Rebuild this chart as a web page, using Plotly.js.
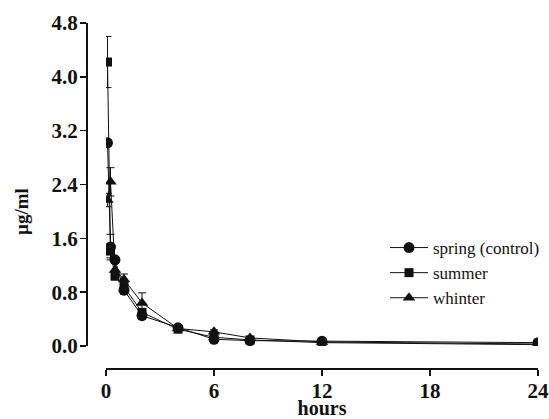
<!DOCTYPE html>
<html><head><meta charset="utf-8">
<script src="https://cdn.plot.ly/plotly-3.0.1.min.js"></script>
<style>html,body{margin:0;padding:0;background:#fff}#c{width:549px;height:419px}</style>
</head><body><div id="c"></div>
<script>
const hours = [0.083, 0.25, 0.5, 1, 2, 4, 6, 8, 12, 24];
const spring = [3.02, 1.47, 1.28, 0.83, 0.45, 0.27, 0.10, 0.08, 0.07, 0.05];
const springErr = [0.05, 0.19, 0.05, 0.06, 0.05, 0.05, 0.02, 0.02, 0.02, 0.02];
const summer = [4.22, 1.41, 1.04, 0.88, 0.50, 0.25, 0.13, 0.09, 0.05, 0.02];
const summerErr = [0.38, 0.10, 0.06, 0.06, 0.05, 0.04, 0.02, 0.02, 0.02, 0.01];
const winter = [2.17, 2.44, 1.13, 0.99, 0.64, 0.26, 0.21, 0.12, 0.06, 0.03];
const winterErr = [0.10, 0.21, 0.10, 0.08, 0.15, 0.04, 0.03, 0.02, 0.02, 0.01];
const names = ['spring (control)', 'summer', 'whinter'];
const yTicks = [0, 0.8, 1.6, 2.4, 3.2, 4.0, 4.8];
const xTicks = [0, 6, 12, 18, 24];
const yTitle = 'µg/ml';
const xTitle = 'hours';

function tr(y, e, name, sym, sz) {
  return {
    x: hours, y: y, name: name, type: 'scatter', mode: 'lines+markers',
    line: {color: '#111', width: 1},
    marker: {symbol: sym, size: sz, color: '#111'},
    error_y: {type: 'data', array: e, visible: true, color: '#111', thickness: 1, width: 4}
  };
}
const data = [
  tr(spring, springErr, names[0], 'circle', 11),
  tr(summer, summerErr, names[1], 'square', 9),
  tr(winter, winterErr, names[2], 'triangle-up', 11)
];
const FAM = 'Liberation Serif';
const tickFont = {family: FAM, color: '#111', size: 21, weight: 'bold'};
const W = 463, H = 345;
const layout = {
  width: 549, height: 419,
  margin: {l: 86, r: 0, t: 23, b: 51},
  paper_bgcolor: '#fff', plot_bgcolor: '#fff',
  font: {family: FAM, color: '#111'},
  showlegend: true,
  legend: {x: (385 - 86) / W, y: (368 - 230) / H,
    xanchor: 'left', yanchor: 'top', itemwidth: 38, tracegroupgap: 0,
    font: {family: FAM, color: '#111', size: 17}},
  xaxis: {
    domain: [20 / W, 452 / W], range: [0, 24], anchor: 'free', position: 0, automargin: false,
    tickvals: xTicks, ticktext: xTicks.map(String),
    showline: true, linecolor: '#111', linewidth: 1.5, showgrid: false, zeroline: false,
    ticks: 'outside', ticklen: 6, tickwidth: 1.5, tickcolor: '#111', ticklabelstandoff: -3,
    tickfont: tickFont,
    title: {text: '<b>' + xTitle + '</b>', font: {family: FAM, color: '#111', size: 20}, standoff: 4}
  },
  yaxis: {
    domain: [22 / H, 1], range: [0, 4.8], anchor: 'free', position: 0, automargin: false,
    tickvals: yTicks, ticktext: yTicks.map(v => v.toFixed(1)),
    showline: true, linecolor: '#111', linewidth: 1.5, showgrid: false, zeroline: false,
    ticks: 'outside', ticklen: 6, tickwidth: 1.5, tickcolor: '#111', ticklabelstandoff: -2,
    tickfont: tickFont
  },
  annotations: [{
    text: '<b>' + yTitle + '</b>', xref: 'paper', yref: 'paper',
    x: (22 - 86) / W, y: (368 - 212) / H, xanchor: 'center', yanchor: 'middle',
    textangle: -90, showarrow: false, font: {family: FAM, color: '#111', size: 19}
  }]
};
Plotly.newPlot('c', data, layout, {displayModeBar: false, staticPlot: true});
</script></body></html>
